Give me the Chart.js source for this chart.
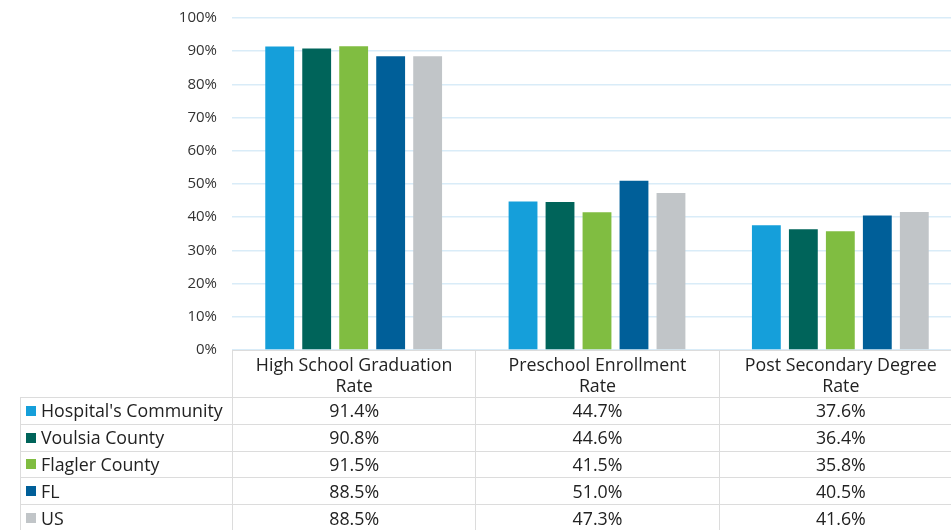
<!DOCTYPE html>
<html>
<head>
<meta charset="utf-8">
<script src="https://cdn.jsdelivr.net/npm/chart.js@4.4.1/dist/chart.umd.min.js"></script>
<style>
  html, body { margin: 0; padding: 0; background: #fff; overflow: hidden; }
  #wrap { position: relative; width: 962px; height: 531px; }
  #c { position: absolute; left: 0; top: 0; }
  #tbl { position: absolute; left: 0; top: 0; width: 962px; height: 531px; pointer-events: none;
         font-family: "Open Sans", Lato, sans-serif; color: #222; }
  .cell { position: absolute; box-sizing: border-box; display: flex; align-items: center;
          justify-content: center; text-align: center; border-left: 1px solid #dcdcdc;
          border-top: 1px solid #dcdcdc; font-size: 17.8px; line-height: 21px; white-space: nowrap; }
  .cell.head { flex-direction: column; padding-top: 1px; }
  .cell.name { justify-content: flex-start; padding-left: 5px; }
  .sw { display: inline-block; width: 10px; height: 10px; margin-right: 5px; }
</style>
</head>
<body>
<div id="wrap">
  <canvas id="c" width="962" height="531"></canvas>
  <div id="tbl"></div>
</div>
<script>
// Category labels (split into the two lines shown in the table header)
const categories = [
  ['High School Graduation', 'Rate'],
  ['Preschool Enrollment', 'Rate'],
  ['Post Secondary Degree', 'Rate']
];

// Series names and values (percent)
const seriesNames = ["Hospital's Community", 'Voulsia County', 'Flagler County', 'FL', 'US'];
const hospitalCommunity = [91.4, 44.7, 37.6];
const voulsiaCounty     = [90.8, 44.6, 36.4];
const flaglerCounty     = [91.5, 41.5, 35.8];
const floridaState      = [88.5, 51.0, 40.5];
const unitedStates      = [88.5, 47.3, 41.6];

const seriesColors = ['#159fda', '#00645a', '#80bd41', '#005f99', '#c1c5c8'];
const seriesValues = [hospitalCommunity, voulsiaCounty, flaglerCounty, floridaState, unitedStates];

const datasets = seriesNames.map((name, i) => ({
  label: name,
  data: seriesValues[i],
  backgroundColor: seriesColors[i],
  borderWidth: 0,
  categoryPercentage: 0.76,
  barPercentage: 0.78
}));

// Data table under the plot, aligned to the category axis
const tablePlugin = {
  id: 'dataTable',
  afterRender(chart) {
    if (chart._tableBuilt) return;
    chart._tableBuilt = true;
    const host = document.getElementById('tbl');
    const area = chart.chartArea;
    const xs = chart.scales.x;
    const n = categories.length;
    const colW = (area.right - area.left) / n;
    const top = area.bottom;
    const headH = 47;
    const rowH = 26.8;
    const nameLeft = 20;

    function cell(cls, left, t, w, h, html) {
      const d = document.createElement('div');
      d.className = 'cell ' + cls;
      d.style.left = left + 'px';
      d.style.top = t + 'px';
      d.style.width = w + 'px';
      d.style.height = h + 'px';
      d.innerHTML = html;
      host.appendChild(d);
    }

    // header row
    for (let j = 0; j < n; j++) {
      const cx = xs.getPixelForValue(j);
      cell('head', cx - colW / 2, top, colW, headH,
        categories[j].map(s => '<div>' + s + '</div>').join(''));
    }
    // data rows
    seriesNames.forEach((name, i) => {
      const t = top + headH + i * rowH;
      cell('name', nameLeft, t, area.left - nameLeft, rowH,
        '<span class="sw" style="background:' + seriesColors[i] + '"></span>' + name);
      for (let j = 0; j < n; j++) {
        const cx = xs.getPixelForValue(j);
        cell('val', cx - colW / 2, t, colW, rowH, seriesValues[i][j].toFixed(1) + '%');
      }
    });
  }
};

new Chart(document.getElementById('c'), {
  type: 'bar',
  data: { labels: categories.map(c => c.join(' ')), datasets },
  options: {
    responsive: false,
    animation: false,
    layout: { padding: { top: 18, right: 0, bottom: 181, left: 0 } },
    plugins: { legend: { display: false }, tooltip: { enabled: false } },
    scales: {
      x: {
        grid: { display: false },
        border: { display: false },
        ticks: { display: false },
        afterFit(scale) { scale.height = 0; scale.paddingLeft = 0; scale.paddingRight = 0; }
      },
      y: {
        min: 0,
        max: 100,
        afterFit(scale) { scale.width = 232; scale.paddingTop = 0; scale.paddingBottom = 0; },
        grid: { color: '#d9ecf8', lineWidth: 1.5, drawTicks: false },
        border: { display: false },
        ticks: {
          stepSize: 10,
          padding: 15,
          color: '#333',
          font: { family: 'Open Sans', size: 15 },
          callback: v => v + '%'
        }
      }
    }
  },
  plugins: [tablePlugin]
});
</script>
</body>
</html>
